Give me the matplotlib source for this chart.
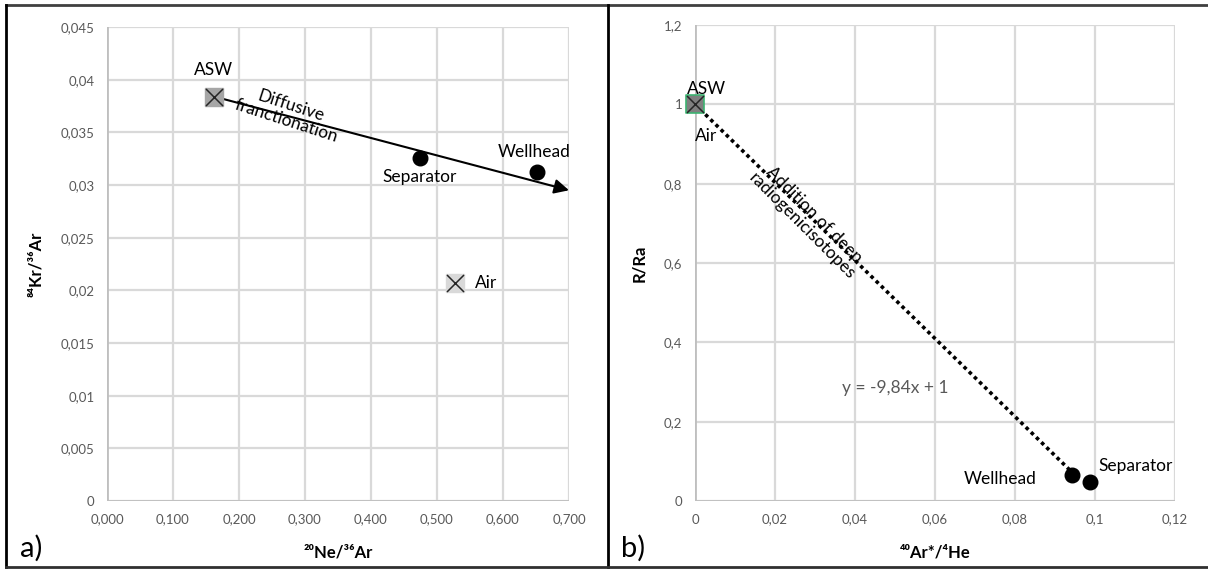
import matplotlib.pyplot as plt
from matplotlib.lines import Line2D
from matplotlib.ticker import FixedLocator

plt.rcParams['font.family'] = ['Lato', 'DejaVu Sans']

# panel a) noble gas ratios
sample_names = ['Separator', 'Wellhead']
ne_ar = [0.474, 0.652]
kr_ar = [0.0326, 0.0312]
asw_a = (0.162, 0.0384)
air_a = (0.527, 0.0207)
arrow_end = (0.700, 0.0295)
xticks_a = [0.0, 0.1, 0.2, 0.3, 0.4, 0.5, 0.6, 0.7]
xlabels_a = ['0,000', '0,100', '0,200', '0,300', '0,400', '0,500', '0,600', '0,700']
yticks_a = [0, 0.005, 0.01, 0.015, 0.02, 0.025, 0.03, 0.035, 0.04, 0.045]
ylabels_a = ['0', '0,005', '0,01', '0,015', '0,02', '0,025', '0,03', '0,035', '0,04', '0,045']

# panel b) helium
ar_he = [0.0943, 0.0988]
r_ra = [0.066, 0.048]
asw_b = (0.0, 1.0)
slope, intercept = -9.84, 1.0
trend_x = [0.0, 0.0943]
xticks_b = [0, 0.02, 0.04, 0.06, 0.08, 0.1, 0.12]
xlabels_b = ['0', '0,02', '0,04', '0,06', '0,08', '0,1', '0,12']
yticks_b = [0, 0.2, 0.4, 0.6, 0.8, 1.0, 1.2]
ylabels_b = ['0', '0,2', '0,4', '0,6', '0,8', '1', '1,2']

W, H = 1208, 575
fig = plt.figure(figsize=(W / 100, H / 100), dpi=100)


def px_axes(x0, x1, y0, y1):
    return fig.add_axes([x0 / W, 1 - y1 / H, (x1 - x0) / W, (y1 - y0) / H])


grid_c = '#d9d9d9'
tick_c = '#595959'


def style(ax, xt, xl, yt, yl):
    ax.set_xlim(xt[0], xt[-1])
    ax.set_ylim(yt[0], yt[-1])
    ax.xaxis.set_major_locator(FixedLocator(xt))
    ax.yaxis.set_major_locator(FixedLocator(yt))
    ax.set_xticklabels(xl)
    ax.set_yticklabels(yl)
    ax.tick_params(length=0, labelsize=9.5, colors=tick_c, pad=9)
    ax.grid(True, color=grid_c, lw=1.6, zorder=0)
    for s in ax.spines.values():
        s.set_visible(False)
    ax.set_axisbelow(True)


# ---- a)
ax1 = px_axes(107, 569, 27, 501)
style(ax1, xticks_a, xlabels_a, yticks_a, ylabels_a)
ax1.axhline(0, color='#bfbfbf', lw=2, zorder=1)
ax1.axvline(0, color='#bfbfbf', lw=2, zorder=1)
ax1.scatter(ne_ar, kr_ar, s=110, color='black', zorder=4)
ax1.scatter(*asw_a, marker='s', s=170, color='#a6a6a6', zorder=4)
ax1.scatter(*asw_a, marker='x', s=150, color='#262626', lw=1.1, zorder=5)
ax1.scatter(*air_a, marker='s', s=170, color='#d9d9d9', zorder=4)
ax1.scatter(*air_a, marker='x', s=150, color='#262626', lw=1.1, zorder=5)
ax1.annotate('', xy=arrow_end, xytext=asw_a,
             arrowprops=dict(arrowstyle='-|>', color='black', lw=1.5,
                             mutation_scale=22, shrinkA=0, shrinkB=0), zorder=3)
ax1.text(0.275, 0.0368, 'Diffusive\nfranctionation',
         rotation=-18, ha='center', va='center', fontsize=12.5, linespacing=1.05)
ax1.text(0.161, 0.0409, 'ASW', ha='center', va='center', fontsize=12.5)
ax1.text(ne_ar[0], kr_ar[0] - 0.0011, 'Separator', ha='center', va='top', fontsize=12.5)
ax1.text(ne_ar[1] - 0.005, kr_ar[1] + 0.0012, 'Wellhead', ha='center', va='bottom', fontsize=12.5)
ax1.text(air_a[0] + 0.03, air_a[1], 'Air', ha='left', va='center', fontsize=12.5)
ax1.set_xlabel('²⁰Ne/³⁶Ar', fontsize=12, fontweight='bold', labelpad=14)
ax1.set_ylabel('⁸⁴Kr/³⁶Ar', fontsize=12, fontweight='bold', labelpad=12)

# ---- b)
ax2 = px_axes(695, 1175, 25, 501)
style(ax2, xticks_b, xlabels_b, yticks_b, ylabels_b)
ax2.axhline(0, color='#bfbfbf', lw=2, zorder=1)
ax2.axvline(0, color='#bfbfbf', lw=2, zorder=1)
ax2.plot(trend_x, [slope * x + intercept for x in trend_x], ls=(0, (1, 1)),
         color='black', lw=2.6, zorder=3)
ax2.scatter(ar_he, r_ra, s=110, color='black', zorder=4)
ax2.scatter(*asw_b, marker='s', s=170, color='#7f7f7f', edgecolors='#3cb371',
            linewidths=1.2, zorder=4, clip_on=False)
ax2.scatter(*asw_b, marker='x', s=150, color='#262626', lw=1.1, zorder=5, clip_on=False)
ax2.text(-0.002, 1.039, 'ASW', ha='left', va='center', fontsize=12.5)
ax2.text(0.0, 0.92, 'Air', ha='left', va='center', fontsize=12.5)
ax2.text(0.0283, 0.708, 'Addition of deep\nradiogenicisotopes', rotation=-45,
         ha='center', va='center', fontsize=12.5, linespacing=1.0)
ax2.text(0.050, 0.285, 'y = -9,84x + 1', color='#595959', ha='center', va='center', fontsize=12.5)
ax2.text(0.0855, 0.055, 'Wellhead', ha='right', va='center', fontsize=12.5)
ax2.text(0.1008, 0.088, 'Separator', ha='left', va='center', fontsize=12.5)
ax2.set_xlabel('⁴⁰Ar*/⁴He', fontsize=12, fontweight='bold', labelpad=14)
ax2.set_ylabel('R/Ra', fontsize=12, fontweight='bold', labelpad=12)

# panel letters
fig.text(20 / W, 1 - 548 / H, 'a)', fontsize=21, va='center', ha='left')
fig.text(621 / W, 1 - 548 / H, 'b)', fontsize=21, va='center', ha='left')


# frame lines
def fline(xs, ys, c='#404040', lw=2):
    fig.add_artist(Line2D([x / W for x in xs], [1 - y / H for y in ys], color=c, lw=lw))


fline([6, W], [5, 5])
fline([6, 6], [5, 567], c='black')
fline([608, 608], [5, 567], c='black')
fline([6, W], [567, 567], c='#303030')

fig.savefig('out.png', dpi=100)
